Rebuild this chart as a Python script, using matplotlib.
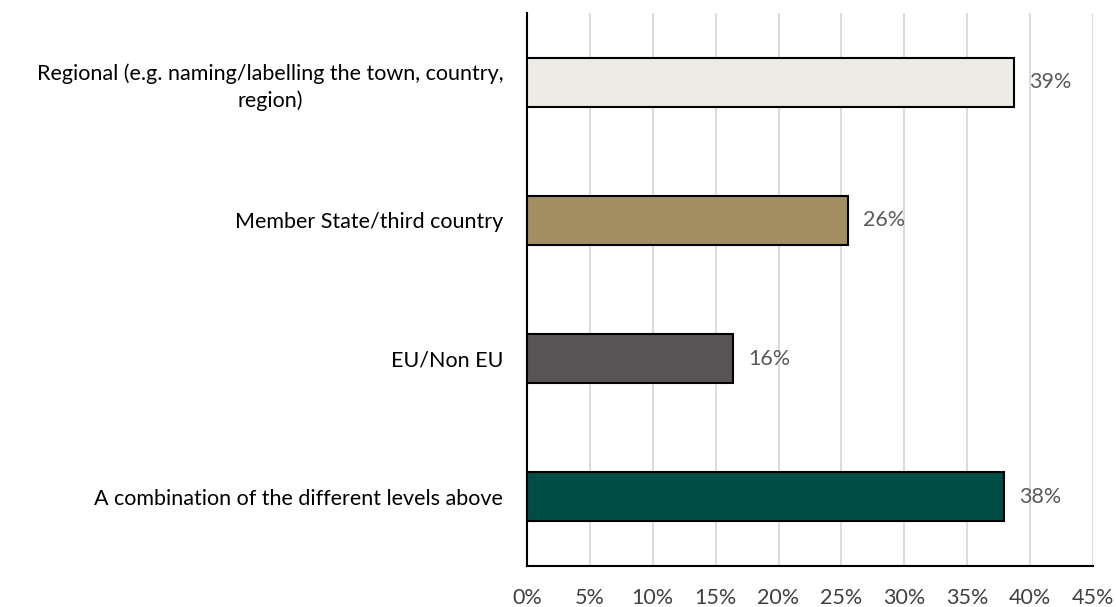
import matplotlib
matplotlib.use("Agg")
import matplotlib.pyplot as plt
from matplotlib.ticker import MultipleLocator, FuncFormatter

categories = [
    "Regional (e.g. naming/labelling the town, country,\nregion)",
    "Member State/third country",
    "EU/Non EU",
    "A combination of the different levels above",
]
values = [38.7, 25.5, 16.4, 37.9]
colors = ["#ECECE5", "#A38E62", "#585354", "#004D44"]

plt.rcParams["font.family"] = ["Lato", "DejaVu Sans"]
FS = 15.5

fig = plt.figure(figsize=(11.16, 6.07), dpi=100)
ax = fig.add_axes([0.4722, 0.0675, 0.5072, 0.911])

ypos = list(range(len(categories)))[::-1]
bars = ax.barh(ypos, values, height=0.355, color=colors,
               edgecolor="black", linewidth=1.5, zorder=3)

for b, v in zip(bars, values):
    ax.annotate(f"{round(v):.0f}%", (b.get_width(), b.get_y() + b.get_height() / 2),
                xytext=(11, 0), textcoords="offset points",
                ha="left", va="center", fontsize=FS, color="#595959")

ax.set_xlim(0, 45)
ax.set_ylim(-0.5, 3.5)
ax.xaxis.set_major_locator(MultipleLocator(5))
ax.xaxis.set_major_formatter(FuncFormatter(lambda x, _: f"{x:.0f}%"))
ax.grid(axis="x", color="#D9D9D9", linewidth=1.3, zorder=0)
ax.set_axisbelow(True)

ax.set_yticks(ypos)
ax.set_yticklabels(categories, multialignment="center", linespacing=1.35)
ax.tick_params(axis="y", length=0, pad=17, labelsize=FS, labelcolor="#000000")
ax.tick_params(axis="x", length=0, pad=16, labelsize=FS, labelcolor="#404040")

for side in ("top", "right"):
    ax.spines[side].set_visible(False)
for side in ("left", "bottom"):
    ax.spines[side].set_color("black")
    ax.spines[side].set_linewidth(1.5)

fig.savefig("out.png", dpi=100)
